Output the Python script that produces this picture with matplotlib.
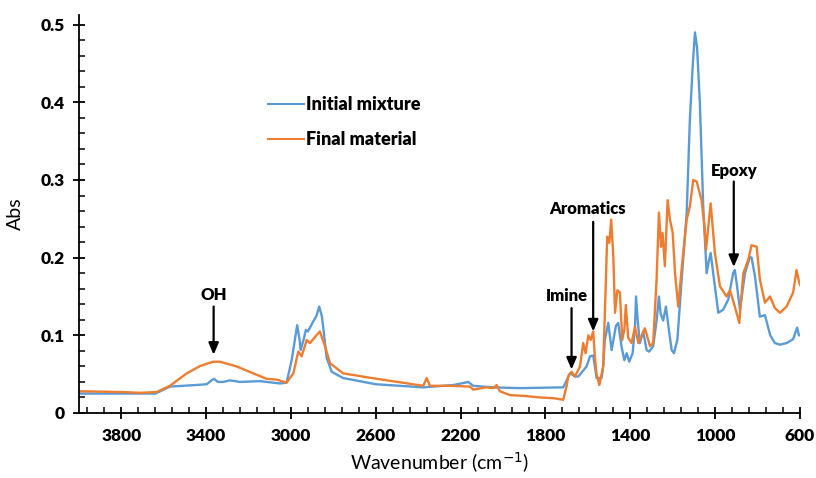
import matplotlib
matplotlib.use("Agg")
import matplotlib.pyplot as plt
from matplotlib.ticker import FixedLocator, MultipleLocator

# FTIR spectra, wavenumber (cm-1) vs absorbance
init_wn = [3995, 3800, 3640, 3571, 3450, 3398, 3375, 3363, 3345, 3320, 3288, 3241,
           3146, 3052, 3021, 2997, 2971, 2960, 2955, 2940, 2930, 2920, 2895, 2880,
           2867, 2855, 2848, 2832, 2808, 2754, 2600, 2376, 2235, 2180, 2164, 2141,
           2046, 1920, 1716, 1700, 1685, 1677, 1661, 1645, 1606, 1590, 1575, 1567,
           1559, 1535, 1528, 1520, 1504, 1488, 1468, 1457, 1441, 1428, 1417, 1405,
           1389, 1378, 1373, 1365, 1355, 1339, 1323, 1311, 1292, 1276, 1265, 1257,
           1245, 1232, 1216, 1205, 1194, 1178, 1158, 1134, 1119, 1105, 1095, 1085,
           1072, 1056, 1040, 1030, 1021, 1009, 985, 962, 938, 915, 907, 895, 883,
           859, 836, 828, 812, 789, 765, 740, 718, 694, 663, 632, 613, 605, 600]
init_abs = [0.025, 0.025, 0.025, 0.034, 0.036, 0.037, 0.042, 0.044, 0.040, 0.040, 0.042, 0.040,
            0.041, 0.038, 0.039, 0.068, 0.113, 0.095, 0.081, 0.095, 0.107, 0.105, 0.118, 0.125,
            0.137, 0.125, 0.110, 0.071, 0.053, 0.045, 0.037, 0.033, 0.036, 0.039, 0.040, 0.035,
            0.033, 0.032, 0.033, 0.042, 0.051, 0.050, 0.047, 0.047, 0.060, 0.073, 0.074, 0.060,
            0.045, 0.045, 0.060, 0.094, 0.116, 0.081, 0.112, 0.116, 0.085, 0.068, 0.077, 0.066,
            0.077, 0.110, 0.150, 0.119, 0.090, 0.105, 0.081, 0.079, 0.086, 0.119, 0.150, 0.128,
            0.119, 0.137, 0.103, 0.081, 0.077, 0.094, 0.171, 0.258, 0.378, 0.450, 0.490, 0.470,
            0.400, 0.266, 0.180, 0.195, 0.206, 0.180, 0.129, 0.133, 0.146, 0.180, 0.184, 0.160, 0.133,
            0.180, 0.201, 0.200, 0.176, 0.124, 0.126, 0.100, 0.090, 0.088, 0.090, 0.095, 0.110, 0.100, 0.100]

final_wn = [3995, 3800, 3712, 3634, 3571, 3492, 3429, 3367, 3335, 3257, 3178, 3115,
            3068, 3021, 2989, 2966, 2950, 2926, 2911, 2880, 2864, 2840, 2816, 2754,
            2596, 2376, 2360, 2345, 2250, 2156, 2141, 2080, 2046, 2030, 2015, 1968,
            1900, 1826, 1760, 1716, 1700, 1693, 1677, 1661, 1637, 1622, 1611, 1598,
            1587, 1575, 1567, 1559, 1546, 1528, 1515, 1509, 1499, 1490, 1480, 1472,
            1461, 1449, 1438, 1428, 1421, 1410, 1394, 1378, 1362, 1331, 1307, 1292,
            1276, 1265, 1255, 1248, 1237, 1224, 1213, 1200, 1189, 1174, 1158, 1134,
            1119, 1103, 1087, 1064, 1050, 1043, 1021, 1001, 977, 946, 930, 907, 886,
            867, 844, 828, 804, 789, 765, 741, 718, 694, 663, 632, 616, 605, 600]
final_abs = [0.028, 0.027, 0.026, 0.027, 0.035, 0.051, 0.0605, 0.066, 0.066, 0.060, 0.051, 0.044,
             0.043, 0.039, 0.051, 0.079, 0.073, 0.094, 0.090, 0.100, 0.105, 0.086, 0.064, 0.051,
             0.044, 0.035, 0.045, 0.035, 0.035, 0.034, 0.030, 0.033, 0.032, 0.036, 0.028, 0.023,
             0.022, 0.020, 0.019, 0.017, 0.035, 0.047, 0.053, 0.047, 0.060, 0.090, 0.077, 0.100,
             0.094, 0.105, 0.072, 0.050, 0.036, 0.060, 0.171, 0.227, 0.219, 0.249, 0.201, 0.129,
             0.158, 0.155, 0.094, 0.108, 0.139, 0.097, 0.090, 0.111, 0.090, 0.109, 0.086, 0.090,
             0.172, 0.258, 0.214, 0.232, 0.189, 0.274, 0.249, 0.232, 0.180, 0.137, 0.185, 0.249,
             0.266, 0.300, 0.298, 0.274, 0.240, 0.210, 0.270, 0.206, 0.163, 0.150, 0.158, 0.137, 0.116,
             0.180, 0.197, 0.216, 0.214, 0.172, 0.142, 0.150, 0.135, 0.129, 0.137, 0.155, 0.184, 0.170, 0.165]

# band labels: text, x, text y, arrow start y, arrow tip y
band_names = ["OH", "Imine", "Aromatics", "Epoxy"]
band_x = [3365, 1677, 1575, 912]
band_text_x = [3365, 1700, 1600, 912]
band_text_y = [0.152, 0.151, 0.263, 0.311]
band_arrow_top = [0.137, 0.135, 0.246, 0.298]
band_arrow_tip = [0.075, 0.056, 0.105, 0.188]

blue = "#5B9BD5"
orange = "#ED7D31"
font = "Lato"

fig = plt.figure(figsize=(8.16, 4.78), dpi=100)
ax = fig.add_axes([0.0968, 0.136, 0.8835, 0.832])

ax.plot(init_wn, init_abs, color=blue, lw=1.7, label="Initial mixture")
ax.plot(final_wn, final_abs, color=orange, lw=1.7, label="Final material")

ax.set_xlim(4000, 600)
ax.set_ylim(0, 0.512)
ax.xaxis.set_major_locator(FixedLocator([3800, 3400, 3000, 2600, 2200, 1800, 1400, 1000, 600]))
ax.xaxis.set_minor_locator(FixedLocator(list(range(600, 4000, 80))))
ax.yaxis.set_minor_locator(MultipleLocator(0.02))
ax.set_yticks([0, 0.1, 0.2, 0.3, 0.4, 0.5])
ax.set_yticklabels(["0", "0.1", "0.2", "0.3", "0.4", "0.5"])

for s in ["top", "right"]:
    ax.spines[s].set_visible(False)
for s in ["left", "bottom"]:
    ax.spines[s].set_linewidth(1.3)

ax.tick_params(which="major", direction="inout", length=9, width=1.3, pad=6,
               labelsize=12.5)
ax.tick_params(which="minor", direction="in", length=4, width=1.1)
for lab in ax.get_xticklabels() + ax.get_yticklabels():
    lab.set_fontfamily(font)
    lab.set_fontweight("heavy")

ax.set_xlabel("Wavenumber (cm$^{-1}$)", fontsize=14, family=font, labelpad=5)
ax.set_ylabel("Abs", fontsize=14, family=font, labelpad=12)

for name, x, tx, ty, top, tip in zip(band_names, band_x, band_text_x, band_text_y,
                                     band_arrow_top, band_arrow_tip):
    ax.text(tx, ty, name, ha="center", va="center", fontsize=12,
            fontweight="heavy", family=font)
    ax.annotate("", xy=(x, tip), xytext=(x, top),
                arrowprops=dict(arrowstyle="-|>,head_width=0.3,head_length=0.7",
                                color="black", lw=1.6, shrinkA=0, shrinkB=0))

leg = ax.legend(loc="upper left", bbox_to_anchor=(0.24, 0.838), frameon=False,
                handlelength=2.0, handletextpad=0.1, labelspacing=1.0,
                prop={"family": font, "weight": "heavy", "size": 13})
for line in leg.get_lines():
    line.set_linewidth(1.5)

fig.savefig("out.png", dpi=100)
